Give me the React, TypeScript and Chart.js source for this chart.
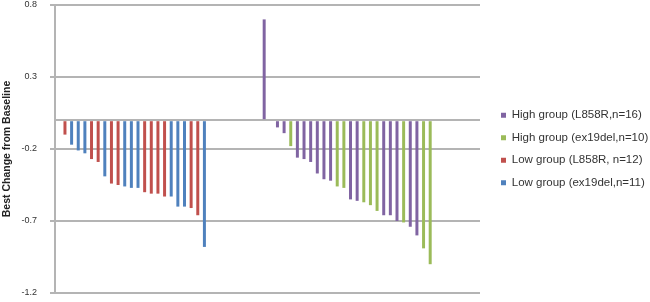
import React, { useEffect, useRef } from 'react';
import { Chart, registerables } from 'chart.js';

Chart.register(...registerables);

const seriesNames = [
  'High group (L858R,n=16)',
  'High group (ex19del,n=10)',
  'Low group (L858R, n=12)',
  'Low group (ex19del,n=11)',
];
const seriesColors = ['#8064A2', '#9BBB59', '#C0504D', '#4F81BD'];

// Low group patients (left waterfall), series index into seriesNames
const lowValues = [
  0, -0.1, -0.17, -0.21, -0.23, -0.27, -0.29, -0.39, -0.44, -0.45, -0.46, -0.47,
  -0.47, -0.5, -0.51, -0.51, -0.53, -0.53, -0.6, -0.6, -0.61, -0.66, -0.88,
];
const lowSeries = [2, 2, 3, 3, 3, 2, 2, 3, 2, 2, 3, 3, 3, 2, 2, 2, 2, 3, 3, 3, 2, 2, 3];

// High group patients (right waterfall)
const highValues = [
  0.7, 0, -0.05, -0.09, -0.18, -0.26, -0.27, -0.29, -0.37, -0.41, -0.42, -0.46, -0.47,
  -0.55, -0.56, -0.57, -0.59, -0.63, -0.66, -0.66, -0.7, -0.71, -0.74, -0.8, -0.89, -1.0,
];
const highSeries = [0, 1, 0, 0, 1, 0, 0, 0, 0, 0, 0, 1, 1, 0, 0, 1, 1, 1, 0, 0, 0, 1, 0, 0, 1, 1];

const blankBetween = 8;
const blankAfter = 7;
const yTicks = [0.8, 0.3, -0.2, -0.7, -1.2];
const yMin = -1.2;
const yMax = 0.8;

const GRID = '#b4b4b4';
const FONT = '"Liberation Sans", Arial, sans-serif';

function buildData() {
  const total = lowValues.length + blankBetween + highValues.length + blankAfter;
  const labels = Array.from({ length: total }, (_, i) => String(i + 1));
  const sets = seriesNames.map(() => new Array(total).fill(null) as (number | null)[]);
  lowValues.forEach((v, i) => {
    sets[lowSeries[i]][i] = v;
  });
  const start = lowValues.length + blankBetween;
  highValues.forEach((v, i) => {
    sets[highSeries[i]][start + i] = v;
  });
  return {
    labels,
    datasets: seriesNames.map((name, s) => ({
      label: name,
      data: sets[s],
      backgroundColor: seriesColors[s],
      borderWidth: 0,
      grouped: false,
      categoryPercentage: 1,
      barPercentage: 0.45,
      yAxisID: 'y',
    })),
  };
}

export default function App() {
  const ref = useRef<HTMLCanvasElement | null>(null);

  useEffect(() => {
    if (!ref.current) return;
    const chart = new Chart(ref.current, {
      type: 'bar',
      data: buildData() as any,
      options: {
        animation: false,
        responsive: true,
        maintainAspectRatio: false,
        layout: { padding: { top: 5, bottom: 9, left: 0, right: 0 } },
        plugins: {
          tooltip: { enabled: false },
          legend: {
            position: 'right',
            maxWidth: 160,
            labels: {
              boxWidth: 5,
              boxHeight: 5,
              padding: 11,
              color: '#333',
              font: { family: FONT, size: 11.5 },
            },
          },
        },
        scales: {
          x: { display: false },
          y: {
            position: 'left',
            min: yMin,
            max: yMax,
            afterBuildTicks: (scale: any) => {
              scale.ticks = [...yTicks, 0].map((v) => ({ value: v }));
            },
            afterFit: (scale: any) => {
              scale.width = 55;
              scale.paddingTop = 0;
              scale.paddingBottom = 0;
            },
            ticks: {
              padding: 13,
              color: '#333',
              font: { family: FONT, size: 9 },
              callback: (v: any) => (Math.abs(Number(v)) < 1e-9 ? '' : Number(v).toFixed(1)),
            },
            grid: {
              color: GRID,
              lineWidth: 2,
              tickLength: 5,
              tickColor: (ctx: any) =>
                ctx.tick && Math.abs(ctx.tick.value) < 1e-9 ? 'rgba(0,0,0,0)' : GRID,
            },
            border: { display: true, color: GRID, width: 2 },
            title: {
              display: true,
              text: 'Best Change from Baseline',
              color: '#222',
              font: { family: FONT, size: 10.5, weight: 'bold' },
              padding: { top: 1, bottom: 8 },
            },
          },
          yGap: {
            type: 'linear',
            position: 'right',
            display: true,
            grid: { display: false, drawTicks: false },
            border: { display: false },
            ticks: { display: false },
            afterFit: (scale: any) => {
              scale.width = 10;
              scale.paddingTop = 0;
              scale.paddingBottom = 0;
            },
          },
        },
      } as any,
    });
    return () => chart.destroy();
  }, []);

  return (
    <div style={{ position: 'fixed', left: 0, top: 0, width: 650, height: 302, background: '#fff' }}>
      <canvas ref={ref} />
    </div>
  );
}
